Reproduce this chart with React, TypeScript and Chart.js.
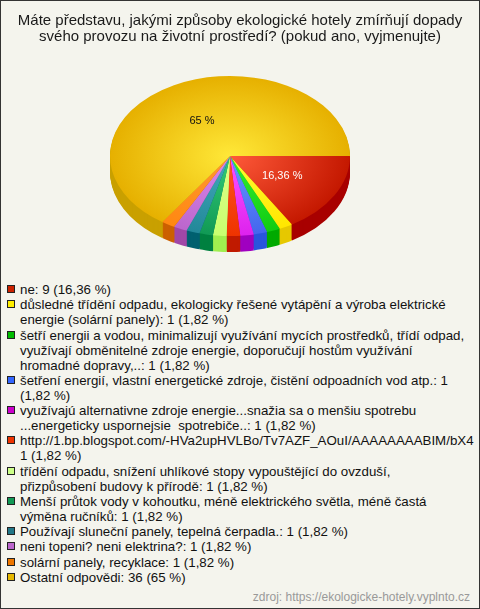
import React, { useEffect, useRef } from "react";
import { Chart, registerables } from "chart.js";

Chart.register(...registerables);

const TITLE_LINES = [
  "Máte představu, jakými způsoby ekologické hotely zmírňují dopady",
  "svého provozu na životní prostředí? (pokud ano, vyjmenujte)",
];

const LABELS = [
  "ne",
  "důsledné třídění odpadu, ekologicky řešené vytápění a výroba elektrické energie (solární panely)",
  "šetří energii a vodou, minimalizují využívání mycích prostředků, třídí odpad, využívají obměnitelné zdroje energie, doporučují hostům využívání hromadné dopravy,..",
  "šetření energií, vlastní energetické zdroje, čistění odpoadních vod atp.",
  "využívajú alternativne zdroje energie...snažia sa o menšiu spotrebu ...energeticky uspornejsie  spotrebiče..",
  "http://1.bp.blogspot.com/-HVa2upHVLBo/Tv7AZF_AOuI/AAAAAAAABIM/bX4I…",
  "třídění odpadu, snížení uhlíkové stopy vypouštějící do ovzduší, přizpůsobení budovy k přírodě",
  "Menší průtok vody v kohoutku, méně elektrického světla, méně častá výměna ručníků",
  "Používají sluneční panely, tepelná čerpadla.",
  "neni topeni? neni elektrina?",
  "solární panely, recyklace",
  "Ostatní odpovědi",
];

const VALUES = [9, 1, 1, 1, 1, 1, 1, 1, 1, 1, 1, 36];

const PCT_LABELS = [
  "16,36 %", "1,82 %", "1,82 %", "1,82 %", "1,82 %", "1,82 %",
  "1,82 %", "1,82 %", "1,82 %", "1,82 %", "1,82 %", "65 %",
];

const SHOW_SLICE_LABEL = [true, false, false, false, false, false, false, false, false, false, false, true];

const SOURCE_TEXT = "zdroj: https://ekologicke-hotely.vyplnto.cz";

// styles
const TOP_LIGHT = ["#ff5a3a", "#ffff33", "#33ee33", "#6699ff", "#ff55ff", "#ff5522", "#ddff88", "#33cc77", "#44aabb", "#dd88ee", "#ff9933", "#ffe838"];
const TOP_DARK = ["#c41800", "#ffe600", "#11cc11", "#4466ee", "#dd22ee", "#ee3300", "#c8ff70", "#119955", "#228899", "#bb66cc", "#ff8811", "#e6b000"];
const SIDE_COLORS = ["#a80000", "#e6c800", "#00aa00", "#2a55dd", "#a000c0", "#c01a00", "#a0ee50", "#008040", "#006070", "#a048a8", "#cc6000", "#c9a000"];
const LEGEND_COLORS = ["#cc2200", "#ffee00", "#00bb00", "#3366ff", "#cc00cc", "#ee3300", "#ccff88", "#119955", "#227788", "#bb66cc", "#ee7700", "#e6b800"];
const LABEL_COLORS = ["#ffffff", "#000", "#000", "#000", "#000", "#000", "#000", "#000", "#000", "#000", "#000", "#111111"];

const FONT = '"Liberation Sans", Arial, sans-serif';
const SCALE_Y = 80 / 120;
const DEPTH = 16;

const pie3d = {
  id: "pie3d",
  beforeDatasetsDraw(chart: any) {
    const arcs = chart.getDatasetMeta(0).data;
    if (!arcs.length) return;
    const cx = arcs[0].x;
    const cy = arcs[0].y;
    const ctx = chart.ctx;
    ctx.save();
    ctx.translate(cx, cy);
    ctx.scale(1, SCALE_Y);
    ctx.translate(-cx, -cy);
    for (let d = DEPTH; d >= 1; d--) {
      ctx.save();
      ctx.translate(0, d / SCALE_Y);
      arcs.forEach((arc: any, i: number) => {
        const clone = Object.create(arc);
        clone.options = { ...arc.options, backgroundColor: SIDE_COLORS[i], borderWidth: 0 };
        clone.draw(ctx);
      });
      ctx.restore();
    }
  },
  afterDatasetsDraw(chart: any) {
    const ctx = chart.ctx;
    ctx.restore();
    const arcs = chart.getDatasetMeta(0).data;
    if (!arcs.length) return;
    const cy = arcs[0].y;
    ctx.save();
    ctx.font = `11px ${FONT}`;
    ctx.textAlign = "center";
    ctx.textBaseline = "middle";
    arcs.forEach((arc: any, i: number) => {
      if (!SHOW_SLICE_LABEL[i]) return;
      const p = arc.tooltipPosition();
      ctx.fillStyle = LABEL_COLORS[i];
      ctx.fillText(PCT_LABELS[i], p.x, cy + (p.y - cy) * SCALE_Y);
    });
    ctx.restore();
  },
};

function topColor(c: any) {
  const i = c.dataIndex;
  if (i === undefined) return TOP_DARK[0];
  const chart = c.chart;
  const a = chart.chartArea;
  if (!a) return TOP_DARK[i];
  const cx = (a.left + a.right) / 2;
  const cy = (a.top + a.bottom) / 2;
  const r = Math.min(a.right - a.left, a.bottom - a.top) / 2;
  const g = chart.ctx.createRadialGradient(cx, cy, 0, cx, cy, r);
  g.addColorStop(0, TOP_LIGHT[i]);
  g.addColorStop(1, TOP_DARK[i]);
  return g;
}

function PieChart() {
  const ref = useRef<HTMLCanvasElement | null>(null);
  useEffect(() => {
    if (!ref.current) return;
    Chart.defaults.font.family = FONT;
    const chart = new Chart(ref.current, {
      type: "pie",
      data: {
        labels: LABELS,
        datasets: [
          {
            data: VALUES,
            backgroundColor: topColor as any,
            borderWidth: 0,
            clip: false as any,
          },
        ],
      },
      options: {
        responsive: false,
        animation: false,
        rotation: 90,
        events: [],
        layout: { padding: { left: 110, right: 130, top: 36, bottom: 4 } },
        plugins: {
          legend: { display: false },
          tooltip: { enabled: false },
          title: { display: false },
        },
      },
      plugins: [pie3d as any],
    });
    return () => chart.destroy();
  }, []);
  return (
    <canvas
      ref={ref}
      width={480}
      height={280}
      style={{ position: "absolute", left: 0, top: 0, width: 480, height: 280 }}
    />
  );
}

export default function App() {
  return (
    <div
      style={{
        position: "absolute",
        left: 0,
        top: 0,
        width: 480,
        height: 609,
        background: "#f4f4ed",
        boxShadow: "inset 0 0 0 1px #333",
        overflow: "hidden",
        fontFamily: FONT,
        color: "#111",
      }}
    >
      <PieChart />
      <div
        style={{
          position: "absolute",
          top: 12,
          left: 0,
          width: 480,
          textAlign: "center",
          fontSize: 15,
          lineHeight: "16px",
          color: "#1a1a1a",
        }}
      >
        {TITLE_LINES.map((t, i) => (
          <div key={i}>{t}</div>
        ))}
      </div>
      <div
        style={{
          position: "absolute",
          top: 282,
          left: 7,
          width: 467,
          height: 305,
          overflow: "hidden",
          fontSize: 13.3,
          lineHeight: "15px",
        }}
      >
        {LABELS.map((l, i) => (
          <div key={i} style={{ position: "relative", paddingLeft: 13, paddingRight: 6, marginBottom: 0.27 }}>
            <span
              style={{
                position: "absolute",
                left: 0,
                top: 3,
                width: 8,
                height: 8,
                boxSizing: "border-box",
                border: "1px solid #222",
                background: LEGEND_COLORS[i],
              }}
            />
            <span style={{ whiteSpace: l.includes(" ") ? "pre-wrap" : "nowrap" }}>{l}</span>
            <span style={{ whiteSpace: "pre-wrap" }}>{`: ${VALUES[i]} (${PCT_LABELS[i].replace(" ", "\u00a0")})`}</span>
          </div>
        ))}
      </div>
      <div
        style={{
          position: "absolute",
          top: 590,
          right: 10,
          fontSize: 12,
          lineHeight: "14px",
          color: "#999",
        }}
      >
        {SOURCE_TEXT}
      </div>
    </div>
  );
}
